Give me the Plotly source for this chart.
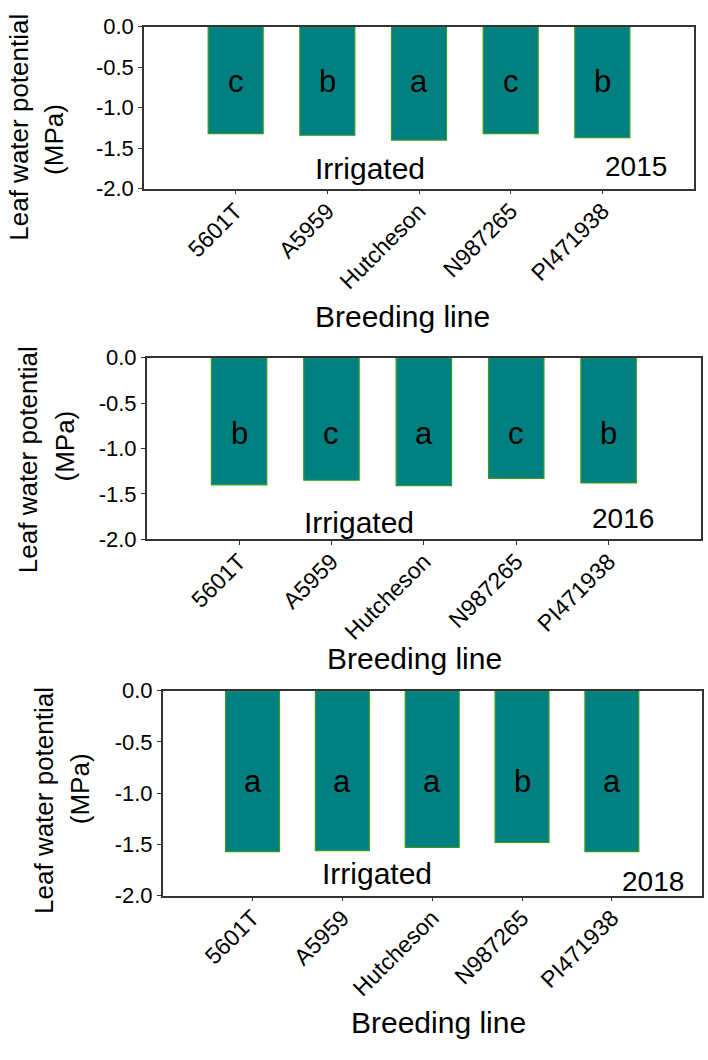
import plotly.graph_objects as go

# ---------------- data ----------------
breeding_lines = ["5601T", "A5959", "Hutcheson", "N987265", "PI471938"]
years = ["2015", "2016", "2018"]
lwp_2015 = [-1.32, -1.34, -1.40, -1.32, -1.37]
lwp_2016 = [-1.40, -1.35, -1.41, -1.33, -1.38]
lwp_2018 = [-1.57, -1.56, -1.53, -1.48, -1.57]
letters_2015 = ["c", "b", "a", "c", "b"]
letters_2016 = ["b", "c", "a", "c", "b"]
letters_2018 = ["a", "a", "a", "b", "a"]
y_tickvals = [0.0, -0.5, -1.0, -1.5, -2.0]
y_ticktext = ["0.0", "-0.5", "-1.0", "-1.5", "-2.0"]
treatment = "Irrigated"
x_title = "Breeding line"
y_title_1 = "Leaf water potential"
y_title_2 = "(MPa)"

values = [lwp_2015, lwp_2016, lwp_2018]
letters = [letters_2015, letters_2016, letters_2018]

# ---------------- layout (pixel geometry) ----------------
W, H = 708, 1060
FONT = "Liberation Sans, Arial, sans-serif"
panels = [
    dict(x0=144, x1=694, y0=15, y1=181, letter_y=-0.68,
         irr=(370, 160), yr=(635.5, 158), bl=(402, 312), yt1=(19, 118.5), yt2=(54, 131)),
    dict(x0=146.7, x1=701, y0=354, y1=540, letter_y=-0.84,
         irr=(359, 523), yr=(623, 519), bl=(415, 662), yt1=(28, 459), yt2=(65, 445)),
    dict(x0=162.7, x1=701.7, y0=695, y1=905, letter_y=-0.886,
         irr=(377, 882), yr=(653, 891), bl=(438, 1035), yt1=(44, 808), yt2=(80, 796)),
]

def px(x):
    return x / W

def py(y):
    return 1 - y / H

fig = go.Figure()
annotations = []
layout_axes = {}

for i, (p, vals, lets, yr) in enumerate(zip(panels, values, letters, years)):
    n = "" if i == 0 else str(i + 1)
    xa, ya = "x" + n, "y" + n
    fig.add_trace(go.Bar(
        x=breeding_lines, y=vals, xaxis=xa, yaxis=ya, width=0.6,
        marker=dict(color="#008080", line=dict(color="#3a9a20", width=1.2)),
        showlegend=False, hoverinfo="x+y",
    ))
    layout_axes["xaxis" + n] = dict(
        domain=[px(p["x0"]), px(p["x1"])], anchor=ya, type="category",
        categoryorder="array", categoryarray=breeding_lines,
        range=[-1, 5], tickangle=-45, ticks="outside", ticklen=4,
        ticklabelstandoff=-6,
        tickcolor="#333", tickfont=dict(family=FONT, size=23, color="#000"),
        showline=True, linecolor="#333", linewidth=1.5, mirror=True,
        showgrid=False, zeroline=False, fixedrange=True,
    )
    layout_axes["yaxis" + n] = dict(
        domain=[py(p["y1"]), py(p["y0"])], anchor=xa,
        range=[-2, 0], tickvals=y_tickvals, ticktext=y_ticktext,
        ticks="outside", ticklen=4, tickcolor="#333",
        tickfont=dict(family=FONT, size=22, color="#000"),
        showline=True, linecolor="#333", linewidth=1.5, mirror=True,
        showgrid=False, zeroline=False, fixedrange=True,
    )
    # significance letters
    for cat, lt in zip(breeding_lines, lets):
        annotations.append(dict(
            x=cat, y=p["letter_y"], xref=xa, yref=ya, text=lt, showarrow=False,
            font=dict(family=FONT, size=31, color="#000"),
            xanchor="center", yanchor="middle",
        ))
    annotations.append(dict(
        x=px(p["irr"][0]), y=py(p["irr"][1]), xref="paper", yref="paper",
        text=treatment, showarrow=False, font=dict(family=FONT, size=30, color="#000"),
        xanchor="center", yanchor="middle",
    ))
    annotations.append(dict(
        x=px(p["yr"][0]), y=py(p["yr"][1]), xref="paper", yref="paper",
        text=yr, showarrow=False, font=dict(family=FONT, size=28, color="#000"),
        xanchor="center", yanchor="middle",
    ))
    annotations.append(dict(
        x=px(p["bl"][0]), y=py(p["bl"][1]), xref="paper", yref="paper",
        text=x_title, showarrow=False, font=dict(family=FONT, size=30, color="#000"),
        xanchor="center", yanchor="middle",
    ))
    annotations.append(dict(
        x=px(p["yt1"][0]), y=py(p["yt1"][1]), xref="paper", yref="paper",
        text=y_title_1, showarrow=False, textangle=-90,
        font=dict(family=FONT, size=26, color="#000"),
        xanchor="center", yanchor="middle",
    ))
    annotations.append(dict(
        x=px(p["yt2"][0]), y=py(p["yt2"][1]), xref="paper", yref="paper",
        text=y_title_2, showarrow=False, textangle=-90,
        font=dict(family=FONT, size=26, color="#000"),
        xanchor="center", yanchor="middle",
    ))

fig.update_layout(
    width=W, height=H, margin=dict(l=0, r=0, t=0, b=0),
    paper_bgcolor="white", plot_bgcolor="white",
    annotations=annotations, bargap=0.4,
    **layout_axes,
)

fig.write_html("out.html", config={"displayModeBar": False})
